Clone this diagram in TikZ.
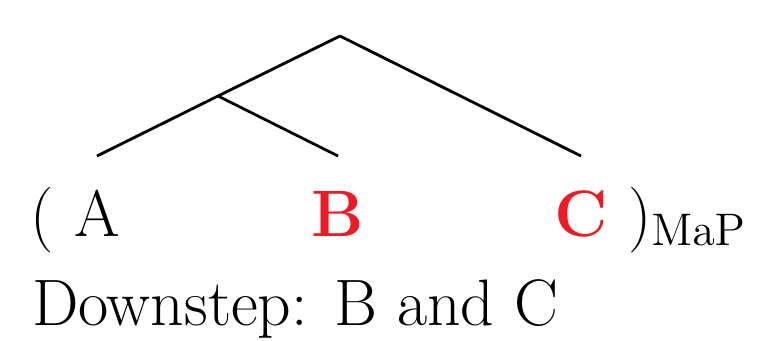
\documentclass[tikz,border=0pt]{standalone}
\definecolor{focusred}{HTML}{ED1C24}
\tikzset{
  branch/.style={line width=0.75pt},
  word/.style={anchor=base,inner sep=0pt,outer sep=0pt},
  focus/.style={word,text=focusred,font=\LARGE\bfseries},
}
\begin{document}
\begin{tikzpicture}[x=0.263pt,y=-0.263pt,every node/.style={font=\LARGE}]
\useasboundingbox (0,0) rectangle (763,340);
\coordinate (root) at (340,36);
\coordinate (mid) at (218,96);
\coordinate (la) at (97,156);
\coordinate (lb) at (338,156);
\coordinate (lc) at (581,156);
\draw[branch] (root) -- (mid) -- (la);
\draw[branch] (mid) -- (lb);
\draw[branch] (root) -- (lc);
\node[word] (lp) at (42,236) {(};
\node[word] (A) at (97,236) {A};
\node[focus] (B) at (338,236) {B};
\node[focus] (C) at (581,236) {C};
\node[word,anchor=base west] (rp) at (628,236) {)$_{\mathrm{MaP}}$};
\node[word,anchor=base west] (ds) at (32,325) {Downstep: B and C};
\end{tikzpicture}
\end{document}
